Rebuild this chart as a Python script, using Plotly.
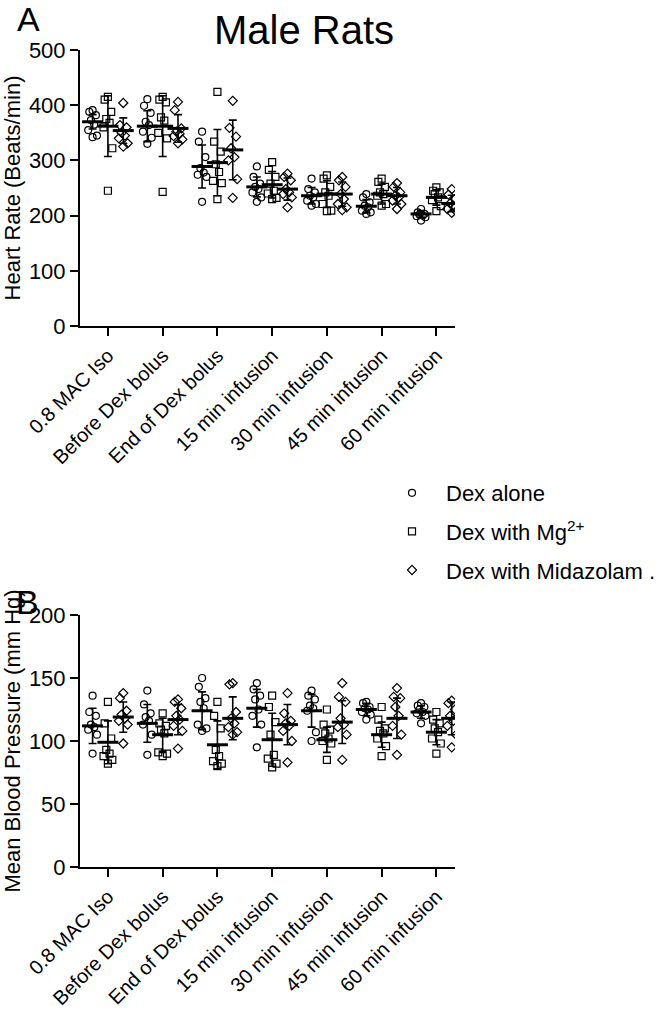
import plotly.graph_objects as go

FONT = "Liberation Sans, Arial, sans-serif"

categories = ["0.8 MAC Iso", "Before Dex bolus", "End of Dex bolus", "15 min infusion",
              "30 min infusion", "45 min infusion", "60 min infusion"]
groups = ["Dex alone", "Dex with Mg<sup>2+</sup>", "Dex with Midazolam ."]
symbols = ["circle-open", "square-open", "diamond-open"]

# ---------------- Heart rate (panel A) ----------------
hr_dex = [
    [391, 388, 382, 373, 365, 355, 345, 342],
    [411, 399, 386, 370, 364, 352, 341, 330],
    [352, 334, 306, 286, 278, 274, 270, 225],
    [289, 270, 258, 252, 248, 242, 233, 225],
    [267, 248, 242, 236, 233, 227, 221, 218],
    [239, 233, 224, 218, 215, 209, 206, 203],
    [212, 206, 203, 202, 200, 199, 197, 191],
]
hr_mg = [
    [415, 410, 388, 375, 368, 360, 322, 245],
    [415, 410, 405, 378, 372, 350, 340, 243],
    [424, 334, 316, 293, 279, 263, 259, 230],
    [297, 283, 270, 258, 245, 240, 232, 230],
    [273, 267, 252, 242, 236, 221, 209, 208],
    [267, 261, 252, 242, 239, 236, 221, 218],
    [251, 245, 242, 239, 233, 228, 217, 208],
]
hr_mid = [
    [404, 364, 360, 350, 345, 340, 331, 325],
    [406, 391, 358, 352, 348, 344, 338, 331],
    [408, 359, 343, 322, 306, 300, 266, 232],
    [276, 270, 264, 248, 242, 239, 233, 215],
    [270, 264, 252, 239, 230, 221, 215, 210],
    [259, 252, 242, 236, 233, 227, 221, 212],
    [248, 238, 230, 222, 218, 212, 208, 205],
]
hr_mean = [
    [370, 362, 289, 252, 236, 217, 203],
    [362, 362, 296, 256, 239, 239, 233],
    [354, 358, 319, 248, 239, 236, 222],
]
hr_sd = [
    [13, 28, 39, 18, 15, 12, 6],
    [55, 55, 60, 24, 24, 18, 14],
    [23, 25, 54, 20, 22, 15, 15],
]

# ---------------- Mean blood pressure (panel B) ----------------
bp_dex = [
    [136, 123, 120, 113, 111, 109, 105, 90],
    [140, 129, 122, 119, 116, 113, 105, 89],
    [150, 143, 134, 131, 126, 113, 110, 108],
    [146, 141, 136, 133, 125, 120, 113, 95],
    [140, 136, 133, 128, 126, 124, 107, 100],
    [131, 130, 127, 126, 125, 123, 121, 117],
    [130, 128, 127, 125, 123, 122, 120, 114],
]
bp_mg = [
    [131, 114, 102, 93, 90, 88, 85, 82],
    [122, 114, 112, 109, 106, 91, 90, 88],
    [131, 120, 110, 93, 88, 84, 82, 80],
    [136, 127, 115, 105, 89, 86, 82, 79],
    [125, 113, 109, 106, 102, 100, 98, 85],
    [127, 117, 110, 108, 106, 102, 96, 88],
    [123, 117, 114, 110, 107, 102, 98, 90],
]
bp_mid = [
    [138, 134, 124, 121, 118, 116, 113, 98],
    [133, 131, 126, 120, 117, 112, 108, 94],
    [146, 145, 123, 118, 114, 111, 107, 105],
    [138, 122, 116, 114, 112, 108, 100, 83],
    [146, 135, 131, 118, 113, 111, 105, 85],
    [142, 135, 134, 127, 120, 112, 105, 89],
    [132, 130, 125, 120, 116, 112, 105, 95],
]
bp_mean = [
    [112, 114, 124, 126, 124, 125, 123],
    [99, 105, 97, 101, 101, 105, 107],
    [119, 117, 118, 113, 115, 118, 118],
]
bp_sd = [
    [14, 15, 15, 15, 13, 5, 5],
    [17, 13, 19, 21, 10, 10, 10],
    [12, 12, 17, 16, 17, 16, 13],
]

group_offset = [-0.28, 0.0, 0.28]
jitter = [0.0, -0.06, 0.06, -0.03, 0.03, -0.08, 0.08, 0.0]

fig = go.Figure()


def add_panel(data_sets, means, sds, xaxis, yaxis, show_legend):
    for g, data in enumerate(data_sets):
        xs, ys = [], []
        for c, vals in enumerate(data):
            for i, v in enumerate(vals):
                xs.append(c + group_offset[g] + jitter[i % len(jitter)])
                ys.append(v)
        fig.add_trace(go.Scatter(
            x=xs, y=ys, mode="markers", name=groups[g],
            marker=dict(symbol=symbols[g], size=7, color="black", line=dict(width=1.2)),
            xaxis=xaxis, yaxis=yaxis, showlegend=show_legend, legendgroup="g%d" % g,
        ))
        fig.add_trace(go.Scatter(
            x=[c + group_offset[g] for c in range(len(categories))], y=means[g],
            mode="markers",
            marker=dict(symbol="line-ew", size=15, color="black", line=dict(width=3, color="black")),
            error_y=dict(type="data", array=sds[g], visible=True, color="black", thickness=1.6, width=4),
            xaxis=xaxis, yaxis=yaxis, showlegend=False, hoverinfo="skip",
        ))


add_panel([hr_dex, hr_mg, hr_mid], hr_mean, hr_sd, "x", "y", True)
add_panel([bp_dex, bp_mg, bp_mid], bp_mean, bp_sd, "x2", "y2", False)

W, H = 670, 1012
L, R, T, B = 80, 215, 50, 145
ph = H - T - B


def py(pix):
    return (H - B - pix) / ph


def px(pix):
    return (pix - L) / (W - L - R)


xcommon = dict(
    range=[-0.51, 6.34], tickmode="array", tickvals=list(range(len(categories))), ticktext=categories,
    tickangle=-45, showline=True, linecolor="black", linewidth=2, ticks="outside", ticklen=8,
    tickwidth=2, tickcolor="black", showgrid=False, zeroline=False, automargin=False,
    tickfont=dict(family=FONT, size=20, color="black"),
)
ycommon = dict(
    showline=True, linecolor="black", linewidth=2, ticks="outside", ticklen=8, tickwidth=2,
    tickcolor="black", showgrid=False, zeroline=False, automargin=False,
    tickfont=dict(family=FONT, size=22, color="black"),
)

fig.update_layout(
    width=W, height=H, margin=dict(l=L, r=R, t=T, b=B, autoexpand=False),
    paper_bgcolor="white", plot_bgcolor="white",
    font=dict(family=FONT, color="black"),
    xaxis=dict(domain=[0, 1], anchor="y", **xcommon),
    xaxis2=dict(domain=[0, 1], anchor="y2", **xcommon),
    yaxis=dict(domain=[py(326), 1.0], anchor="x", range=[0, 500], dtick=100,
               title=dict(text="Heart Rate (Beats/min)", font=dict(family=FONT, size=22), standoff=4),
               **ycommon),
    yaxis2=dict(domain=[0, py(615)], anchor="x2", range=[0, 200], dtick=50,
                title=dict(text="Mean Blood Pressure (mm Hg)", font=dict(family=FONT, size=22), standoff=4),
                **ycommon),
    legend=dict(x=px(378), y=py(472), xanchor="left", yanchor="top",
                font=dict(family=FONT, size=22, color="black"),
                tracegroupgap=7, bgcolor="rgba(0,0,0,0)", itemwidth=58),
    showlegend=True,
    annotations=[
        dict(text="Male Rats", x=px(304), y=py(30), xref="paper", yref="paper",
             xanchor="center", yanchor="middle",
             showarrow=False, font=dict(family=FONT, size=40, color="black")),
        dict(text="A", x=px(29), y=py(19), xref="paper", yref="paper",
             xanchor="center", yanchor="middle",
             showarrow=False, font=dict(family=FONT, size=34, color="black")),
        dict(text="B", x=px(27), y=py(602), xref="paper", yref="paper",
             xanchor="center", yanchor="middle",
             showarrow=False, font=dict(family=FONT, size=34, color="black")),
    ],
)

fig.write_html("out.html")
